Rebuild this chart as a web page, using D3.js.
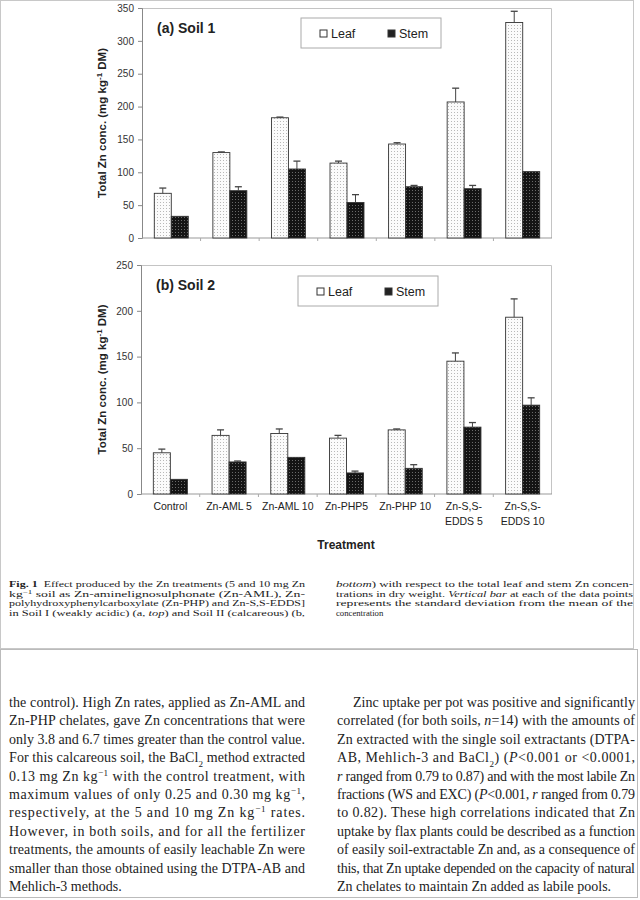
<!DOCTYPE html>
<meta charset="utf-8">
<style>
body { margin: 0; background: #fff; }
svg { display: block; }
.tick text { font-family: "Liberation Sans", Arial, sans-serif; fill: #333; }
.serif { font-family: "Liberation Serif", "Times New Roman", serif; fill: #222; }
</style>
<body>
<script src="https://cdnjs.cloudflare.com/ajax/libs/d3/7.8.5/d3.min.js"></script>
<script>

// treatments (x categories), two-line labels for the chelate ones
var treatments = ["Control", "Zn-AML 5", "Zn-AML 10", "Zn-PHP5", "Zn-PHP 10", "Zn-S,S-EDDS 5", "Zn-S,S-EDDS 10"];
var tickLabels = [["Control"], ["Zn-AML 5"], ["Zn-AML 10"], ["Zn-PHP5"], ["Zn-PHP 10"], ["Zn-S,S-", "EDDS 5"], ["Zn-S,S-", "EDDS 10"]];
var series = ["Leaf", "Stem"];

// (a) Soil 1, total Zn conc. mg/kg DM, with standard deviation
var soil1Leaf   = [68, 130, 183, 114, 143, 207, 328];
var soil1LeafSd = [8, 1, 1, 3, 2, 21, 17];
var soil1Stem   = [33, 72, 105, 54, 78, 75, 101];
var soil1StemSd = [0, 6, 12, 12, 2, 5, 0];

// (b) Soil 2
var soil2Leaf   = [45, 64, 66, 61, 70, 145, 193];
var soil2LeafSd = [4, 6, 5, 3, 1, 9, 20];
var soil2Stem   = [16, 35, 40, 23, 28, 73, 97];
var soil2StemSd = [0, 1, 0, 2, 4, 5, 8];

var soil1Ticks = [0, 50, 100, 150, 200, 250, 300, 350];
var soil2Ticks = [0, 50, 100, 150, 200, 250];

// caption + body text (markup: **bold** *italic* ^{sup} _{sub})
var captionLeft = [
  "**Fig. 1**  Effect produced by the Zn treatments (5 and 10 mg Zn",
  "kg^{−1} soil as Zn-aminelignosulphonate (Zn-AML), Zn-",
  "polyhydroxyphenylcarboxylate (Zn-PHP) and Zn-S,S-EDDS]",
  "in Soil I (weakly acidic) (a, *top*) and Soil II (calcareous) (b,"
];
var captionRight = [
  "*bottom*) with respect to the total leaf and stem Zn concen-",
  "trations in dry weight. *Vertical bar* at each of the data points",
  "represents the standard deviation from the mean of the",
  "concentration"
];
var bodyLeft = [
  "the control). High Zn rates, applied as Zn-AML and",
  "Zn-PHP chelates, gave Zn concentrations that were",
  "only 3.8 and 6.7 times greater than the control value.",
  "For this calcareous soil, the BaCl_{2} method extracted",
  "0.13 mg Zn kg^{−1} with the control treatment, with",
  "maximum values of only 0.25 and 0.30 mg kg^{−1},",
  "respectively, at the 5 and 10 mg Zn kg^{−1} rates.",
  "However, in both soils, and for all the fertilizer",
  "treatments, the amounts of easily leachable Zn were",
  "smaller than those obtained using the DTPA-AB and",
  "Mehlich-3 methods."
];
var bodyRight = [
  "Zinc uptake per pot was positive and significantly",
  "correlated (for both soils, *n*=14) with the amounts of",
  "Zn extracted with the single soil extractants (DTPA-",
  "AB, Mehlich-3 and BaCl_{2}) (*P*<0.001 or <0.0001,",
  "*r* ranged from 0.79 to 0.87) and with the most labile Zn",
  "fractions (WS and EXC) (*P*<0.001, *r* ranged from 0.79",
  "to 0.82). These high correlations indicated that Zn",
  "uptake by flax plants could be described as a function",
  "of easily soil-extractable Zn and, as a consequence of",
  "this, that Zn uptake depended on the capacity of natural",
  "Zn chelates to maintain Zn added as labile pools."
];

var svg = d3.select("body").append("svg")
    .attr("width", 640)
    .attr("height", 900);

// dotted fills like the scanned bars
var defs = svg.append("defs");
var pl = defs.append("pattern").attr("id", "dotLeaf")
    .attr("patternUnits", "userSpaceOnUse").attr("width", 3).attr("height", 3);
pl.append("rect").attr("width", 3).attr("height", 3).attr("fill", "#fbfbfb");
pl.append("rect").attr("x", 1).attr("y", 1).attr("width", 1).attr("height", 1).attr("fill", "#b8b8b8");
var ps = defs.append("pattern").attr("id", "dotStem")
    .attr("patternUnits", "userSpaceOnUse").attr("width", 3).attr("height", 3);
ps.append("rect").attr("width", 3).attr("height", 3).attr("fill", "#141414");
ps.append("rect").attr("x", 1).attr("y", 1).attr("width", 1).attr("height", 1).attr("fill", "#6a6a6a");

var fills = {Leaf: "url(#dotLeaf)", Stem: "url(#dotStem)"};

// scan frames: figure part and text part
svg.append("rect").attr("x", 0.5).attr("y", 0.5).attr("width", 633).attr("height", 648)
    .attr("fill", "none").attr("stroke", "#c8c8c8");
svg.append("rect").attr("x", 0.5).attr("y", 649.5).attr("width", 637).attr("height", 248)
    .attr("fill", "none").attr("stroke", "#bbb");

function panel(opt) {
  var x0 = d3.scaleBand().domain(treatments).range([opt.left, opt.right])
      .paddingInner(0.42).paddingOuter(0.21);
  var x1 = d3.scaleBand().domain(series).range([0, x0.bandwidth()]);
  var y = d3.scaleLinear().domain([0, d3.max(opt.ticks)]).range([opt.bottom, opt.top]);
  var g = svg.append("g");

  // frame top + right
  g.append("path")
      .attr("d", "M" + opt.left + "," + (opt.top + 0.5) + "H" + (opt.right - 0.5) + "V" + opt.bottom)
      .attr("fill", "none").attr("stroke", "#c4c4c4");

  var ya = g.append("g").attr("transform", "translate(" + opt.left + ",0)")
      .call(d3.axisLeft(y).tickValues(opt.ticks).tickSize(4).tickPadding(4));
  ya.select(".domain").attr("stroke", "#888");
  ya.selectAll(".tick line").attr("stroke", "#888");
  ya.selectAll(".tick text").attr("font-size", "10px");

  // x axis: plain line with small ticks between groups
  var step = x0.step();
  var xa = g.append("g").attr("transform", "translate(0," + opt.bottom + ")");
  xa.append("line").attr("x1", opt.left).attr("x2", opt.right)
      .attr("stroke", "#999");
  xa.selectAll(".sep").data(treatments.slice(1)).enter().append("line")
      .attr("x1", function(d) { return x0(d) - x0.paddingInner() * step / 2; })
      .attr("x2", function(d) { return x0(d) - x0.paddingInner() * step / 2; })
      .attr("y1", 0).attr("y2", 3).attr("stroke", "#aaa");

  var rows = treatments.map(function(t, i) {
    return [{s: "Leaf", t: t, v: opt.leaf[i], sd: opt.leafSd[i]},
            {s: "Stem", t: t, v: opt.stem[i], sd: opt.stemSd[i]}];
  });
  var flat = d3.merge(rows);

  g.selectAll(".bar").data(flat).enter().append("rect")
      .attr("x", function(d) { return x0(d.t) + x1(d.s); })
      .attr("y", function(d) { return y(d.v); })
      .attr("width", x1.bandwidth())
      .attr("height", function(d) { return opt.bottom - y(d.v); })
      .attr("fill", function(d) { return fills[d.s]; })
      .attr("stroke", "#333").attr("stroke-width", 0.9);

  var eb = g.selectAll(".err").data(flat.filter(function(d) { return d.sd > 0; }))
      .enter().append("g").attr("stroke", "#444");
  eb.append("line")
      .attr("x1", function(d) { return x0(d.t) + x1(d.s) + x1.bandwidth() / 2; })
      .attr("x2", function(d) { return x0(d.t) + x1(d.s) + x1.bandwidth() / 2; })
      .attr("y1", function(d) { return y(d.v); })
      .attr("y2", function(d) { return y(d.v + d.sd); });
  eb.append("line")
      .attr("x1", function(d) { return x0(d.t) + x1(d.s) + x1.bandwidth() / 2 - 3.5; })
      .attr("x2", function(d) { return x0(d.t) + x1(d.s) + x1.bandwidth() / 2 + 3.5; })
      .attr("y1", function(d) { return y(d.v + d.sd); })
      .attr("y2", function(d) { return y(d.v + d.sd); })
      .attr("stroke-width", 1.3);

  // panel title
  g.append("text").attr("x", opt.left + 15).attr("y", opt.top + 25)
      .attr("font-family", "Liberation Sans, Arial, sans-serif")
      .attr("font-weight", "bold").attr("font-size", "14px").attr("fill", "#222")
      .text(opt.title);

  // legend
  var lg = g.append("g").attr("transform", "translate(" + opt.legX + "," + opt.legY + ")");
  lg.append("rect").attr("width", 140).attr("height", 30)
      .attr("fill", "#fff").attr("stroke", "#aaa");
  series.forEach(function(s, i) {
    var ox = 19 + i * 68;
    lg.append("rect").attr("x", ox).attr("y", 12).attr("width", 7).attr("height", 7)
        .attr("fill", i ? "#222" : "#fff").attr("stroke", "#333");
    lg.append("text").attr("x", ox + 11).attr("y", 20)
        .attr("font-family", "Liberation Sans, Arial, sans-serif")
        .attr("font-size", "12.5px").attr("fill", "#222").text(s);
  });

  // y title
  var yt = g.append("text")
      .attr("transform", "translate(106," + ((opt.top + opt.bottom) / 2) + ") rotate(-90)")
      .attr("text-anchor", "middle")
      .attr("font-family", "Liberation Sans, Arial, sans-serif")
      .attr("font-weight", "bold").attr("font-size", "11.5px").attr("fill", "#222");
  yt.append("tspan").text("Total Zn conc. (mg kg");
  yt.append("tspan").attr("baseline-shift", "super").attr("font-size", "8px").text("-1");
  yt.append("tspan").text(" DM)");

  if (opt.labels) {
    var lab = g.selectAll(".lab").data(treatments).enter().append("text")
        .attr("text-anchor", "middle")
        .attr("font-family", "Liberation Sans, Arial, sans-serif")
        .attr("font-size", "10.5px").attr("fill", "#222");
    lab.selectAll("tspan").data(function(d, i) { return tickLabels[i]; }).enter().append("tspan")
        .attr("x", function() { var t = d3.select(this.parentNode).datum(); return x0(t) + x0.bandwidth() / 2; })
        .attr("y", function(d, j) { return opt.bottom + 16 + j * 14.5; })
        .text(function(d) { return d; });
  }
  return g;
}

panel({top: 8, bottom: 238, left: 142, right: 552, ticks: soil1Ticks,
       leaf: soil1Leaf, leafSd: soil1LeafSd, stem: soil1Stem, stemSd: soil1StemSd,
       title: "(a) Soil 1", legX: 301, legY: 18, labels: false});
panel({top: 265, bottom: 494, left: 141, right: 552, ticks: soil2Ticks,
       leaf: soil2Leaf, leafSd: soil2LeafSd, stem: soil2Stem, stemSd: soil2StemSd,
       title: "(b) Soil 2", legX: 298, legY: 276, labels: true});

svg.append("text").attr("x", 346).attr("y", 549).attr("text-anchor", "middle")
    .attr("font-family", "Liberation Sans, Arial, sans-serif")
    .attr("font-weight", "bold").attr("font-size", "12px").attr("fill", "#222")
    .text("Treatment");

// text blocks: one <text> per column, one tspan per line
function addRich(t, str) {
  var parts = str.split(/(\*\*[^*]+\*\*|\*[^*]+\*|\^\{[^}]+\}|_\{[^}]+\})/);
  parts.forEach(function(p) {
    if (!p) return;
    var ts = t.append("tspan");
    if (p.slice(0, 2) == "**") ts.attr("font-weight", "bold").text(p.slice(2, -2));
    else if (p[0] == "*") ts.attr("font-style", "italic").text(p.slice(1, -1));
    else if (p[0] == "^") ts.attr("baseline-shift", "super").attr("font-size", "65%").text(p.slice(2, -1));
    else if (p[0] == "_") ts.attr("baseline-shift", "sub").attr("font-size", "65%").text(p.slice(2, -1));
    else ts.text(p);
  });
}

function block(lines, x, width, y0, dy, size, lastRagged, indent, adjust) {
  var t = svg.append("text").attr("class", "serif")
      .attr("font-size", size + "px")
      .attr("xml:space", "preserve");
  lines.forEach(function(l, i) {
    var ind = (i == 0 && indent) ? indent : 0;
    var line = t.append("tspan").attr("x", x + ind).attr("y", y0 + i * dy);
    addRich(line, l);
    if (!(lastRagged && i == lines.length - 1))
      line.attr("textLength", width - ind).attr("lengthAdjust", adjust);
  });
}

block(captionLeft, 9, 296, 587, 9.7, 8.7, false, 0, "spacingAndGlyphs");
block(captionRight, 336, 297, 587, 9.7, 8.7, true, 0, "spacingAndGlyphs");
block(bodyLeft, 9, 296, 707, 18.4, 14, true, 0, "spacing");
block(bodyRight, 337, 298, 707, 18.4, 14, true, 16, "spacing");

</script>
</body>
